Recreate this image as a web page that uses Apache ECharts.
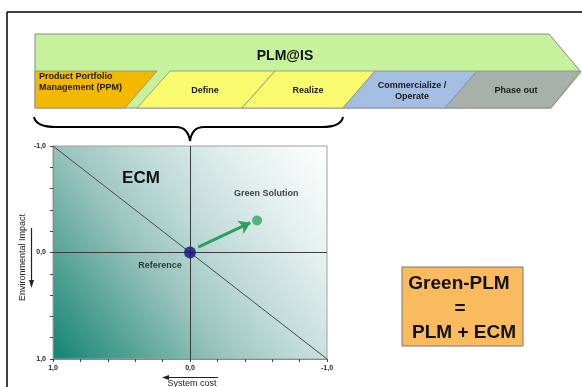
<!DOCTYPE html>
<html>
<head>
<meta charset="utf-8">
<script src="https://cdn.jsdelivr.net/npm/echarts@6/dist/echarts.min.js"></script>
<style>
  html, body { margin: 0; padding: 0; background: #ffffff; }
  #chart { width: 582px; height: 387px; }
</style>
</head>
<body>
<div id="chart"></div>
<script>
// Lifecycle phases shown in the PLM@IS banner
const bannerTitle = 'PLM@IS';
const phaseNames = ['Product Portfolio\nManagement (PPM)', 'Define', 'Realize', 'Commercialize /\nOperate', 'Phase out'];
const phaseColors = ['#f3b800', '#fafa6e', '#fafa6e', '#a3bde3', '#a7b0ab'];

// ECM trade-off plane: system cost (x) vs. environmental impact (y)
const axisMin = -1;
const axisMax = 1;
const tickLabels = { '-1': '-1,0', '0': '0,0', '1': '1,0' };
const xAxisName = 'System cost';
const yAxisName = 'Environmental Impact';
const referencePoint = [0, 0];
const greenSolutionPoint = [-0.49, -0.3];
const tradeOffLine = [[1, -1], [-1, 1]];
const improvementArrow = [[-0.06, -0.05], [-0.44, -0.28]];

const formulaLines = ['Green-PLM', '=', 'PLM + ECM'];

const chart = echarts.init(document.getElementById('chart'), null, { renderer: 'canvas' });

const FONT = '"Liberation Sans", Arial, sans-serif';

// Banner geometry (chevron arrow with slanted phase blocks)
const bTop = 34, rowTop = 71, bBot = 108, bLeft = 35;
const phaseShapes = [
  [[bLeft, rowTop], [157, rowTop], [125, bBot], [bLeft, bBot]],
  [[170, rowTop], [275, rowTop], [242, bBot], [137, bBot]],
  [[275, rowTop], [375, rowTop], [343, bBot], [242, bBot]],
  [[375, rowTop], [477, rowTop], [445, bBot], [343, bBot]],
  [[477, rowTop], [580, rowTop], [551, bBot], [445, bBot]]
];
const phaseLabelPos = [[39, 82, 'left'], [205, 91, 'center'], [308, 91, 'center'], [412, 91, 'center'], [516, 91, 'center']];

const graphics = [
  // outer frame
  { type: 'line', shape: { x1: 7, y1: 12, x2: 7, y2: 387 }, style: { stroke: '#000', lineWidth: 1.5 }, z: 10 },
  { type: 'line', shape: { x1: 7, y1: 12, x2: 582, y2: 12 }, style: { stroke: '#000', lineWidth: 1.5 }, z: 10 },
  // banner body
  {
    type: 'polygon',
    shape: { points: [[bLeft, bTop], [549, bTop], [581, 72], [551, bBot], [bLeft, bBot]] },
    style: { fill: '#c6f29b', stroke: '#8a8a8a', lineWidth: 1 },
    z: 10
  },
  {
    type: 'text', x: 285, y: 56,
    style: { text: bannerTitle, font: 'bold 14px ' + FONT, fill: '#111', align: 'center', verticalAlign: 'middle' },
    z: 12
  }
];

phaseNames.forEach(function (name, i) {
  graphics.push({
    type: 'polygon',
    shape: { points: phaseShapes[i] },
    style: { fill: phaseColors[i], stroke: '#8a8a8a', lineWidth: 0.8 },
    z: 11
  });
  const p = phaseLabelPos[i];
  graphics.push({
    type: 'text', x: p[0], y: p[1],
    style: {
      text: name, font: 'bold 9px ' + FONT, fill: '#1a1a1a',
      align: p[2], verticalAlign: 'middle', lineHeight: 11.5
    },
    z: 12
  });
});

// curly brace spanning PPM .. Realize
const braceStyle = { stroke: '#000', lineWidth: 2, fill: 'none' };
graphics.push(
  { type: 'bezierCurve', shape: { x1: 34, y1: 117, x2: 56, y2: 127, cpx1: 36, cpy1: 127 }, style: braceStyle, z: 10 },
  { type: 'line', shape: { x1: 56, y1: 127, x2: 176, y2: 127 }, style: braceStyle, z: 10 },
  { type: 'bezierCurve', shape: { x1: 176, y1: 127, x2: 190, y2: 141, cpx1: 188, cpy1: 127 }, style: braceStyle, z: 10 },
  { type: 'bezierCurve', shape: { x1: 190, y1: 141, x2: 204, y2: 127, cpx1: 192, cpy1: 127 }, style: braceStyle, z: 10 },
  { type: 'line', shape: { x1: 204, y1: 127, x2: 322, y2: 127 }, style: braceStyle, z: 10 },
  { type: 'bezierCurve', shape: { x1: 322, y1: 127, x2: 343, y2: 117, cpx1: 341, cpy1: 127 }, style: braceStyle, z: 10 }
);

// ECM title inside the plane
graphics.push({
  type: 'text', x: 141, y: 178,
  style: { text: 'ECM', font: 'bold 17px ' + FONT, fill: '#111', align: 'center', verticalAlign: 'middle' },
  z: 20
});

// direction arrows beside the axis names
graphics.push(
  { type: 'line', shape: { x1: 218, y1: 377.5, x2: 168, y2: 377.5 }, style: { stroke: '#222', lineWidth: 1.2 }, z: 20 },
  { type: 'polygon', shape: { points: [[162, 377.5], [169, 375], [169, 380]] }, style: { fill: '#222' }, z: 20 },
  { type: 'line', shape: { x1: 31.5, y1: 228, x2: 31.5, y2: 281 }, style: { stroke: '#222', lineWidth: 1.2 }, z: 20 },
  { type: 'polygon', shape: { points: [[31.5, 288], [29, 280], [34, 280]] }, style: { fill: '#222' }, z: 20 }
);

// Green-PLM formula box
graphics.push({
  type: 'rect', shape: { x: 402, y: 267, width: 121, height: 79 },
  style: { fill: '#f9bb5e', stroke: '#777', lineWidth: 1 }, z: 10
});
const formulaPos = [[459, 284], [460, 309], [464, 333]];
formulaLines.forEach(function (t, i) {
  graphics.push({
    type: 'text', x: formulaPos[i][0], y: formulaPos[i][1],
    style: { text: t, font: 'bold 19px ' + FONT, fill: '#111', align: 'center', verticalAlign: 'middle' },
    z: 12
  });
});

const labelFmt = function (v) {
  const k = String(Math.round(v));
  return Math.abs(v - Math.round(v)) < 1e-6 && tickLabels[k] !== undefined ? tickLabels[k] : '';
};

const axisCommon = {
  type: 'value',
  min: axisMin,
  max: axisMax,
  interval: 1,
  inverse: true,
  axisLine: { show: true, onZero: false, lineStyle: { color: '#8a8a8a', width: 1 } },
  axisTick: { show: true, length: 3, lineStyle: { color: '#444' } },
  minorTick: { show: true, splitNumber: 5, length: 3, lineStyle: { color: '#444' } },
  splitLine: { show: false },
  minorSplitLine: { show: false },
  axisLabel: { formatter: labelFmt, fontSize: 7, fontWeight: 'bold', color: '#222', fontFamily: FONT }
};

const option = {
  animation: false,
  backgroundColor: '#ffffff',
  grid: {
    left: 53, top: 146, right: 255, bottom: 28,
    outerBoundsMode: 'none',
    containLabel: false,
    show: true,
    borderColor: '#a0a0a0',
    borderWidth: 1,
    backgroundColor: new echarts.graphic.LinearGradient(0, 1, 1, 0, [
      { offset: 0, color: '#128373' },
      { offset: 0.2, color: '#58a497' },
      { offset: 0.4, color: '#9cc5bf' },
      { offset: 0.55, color: '#bcd9d5' },
      { offset: 0.78, color: '#e4f0ee' },
      { offset: 1, color: '#ffffff' }
    ])
  },
  xAxis: Object.assign({}, axisCommon, {
    position: 'bottom',
    name: xAxisName,
    nameLocation: 'middle',
    nameGap: 20,
    nameTextStyle: { fontSize: 9, color: '#222', fontFamily: FONT, padding: [0, 0, 0, 4] },
    axisLabel: Object.assign({}, axisCommon.axisLabel, { margin: 6 })
  }),
  yAxis: Object.assign({}, axisCommon, {
    position: 'left',
    name: yAxisName,
    nameLocation: 'middle',
    nameGap: 26,
    nameRotate: 90,
    nameTextStyle: { fontSize: 9, color: '#222', fontFamily: FONT, padding: [0, 10, 0, 0] },
    axisLabel: Object.assign({}, axisCommon.axisLabel, { margin: 7 })
  }),
  graphic: graphics,
  series: [
    {
      name: 'trade-off',
      type: 'line',
      data: tradeOffLine,
      symbol: 'none',
      lineStyle: { color: '#4a4a4a', width: 1 },
      silent: true,
      z: 2,
      markLine: {
        silent: true,
        symbol: 'none',
        label: { show: false },
        lineStyle: { color: '#3a3a3a', width: 1, type: 'solid' },
        data: [{ xAxis: 0 }, { yAxis: 0 }]
      }
    },
    {
      name: 'improvement',
      type: 'lines',
      coordinateSystem: 'cartesian2d',
      data: [{ coords: improvementArrow }],
      symbol: ['none', 'arrow'],
      symbolSize: [0, 11],
      lineStyle: { color: '#2e9e5e', width: 3, opacity: 1 },
      z: 4
    },
    {
      name: 'Reference',
      type: 'scatter',
      data: [referencePoint],
      symbolSize: 12,
      itemStyle: { color: '#12127f' },
      label: {
        show: true, formatter: 'Reference', position: 'bottom', distance: 3, offset: [-30, 0],
        fontSize: 9, fontWeight: 'bold', color: '#111', fontFamily: FONT
      },
      z: 5
    },
    {
      name: 'Green Solution',
      type: 'scatter',
      data: [greenSolutionPoint],
      symbolSize: 10,
      itemStyle: { color: '#2fa862' },
      label: {
        show: true, formatter: 'Green Solution', position: 'top', distance: 18, offset: [9, 0],
        fontSize: 9, fontWeight: 'bold', color: '#111', fontFamily: FONT
      },
      z: 5
    }
  ]
};

chart.setOption(option);
</script>
</body>
</html>
